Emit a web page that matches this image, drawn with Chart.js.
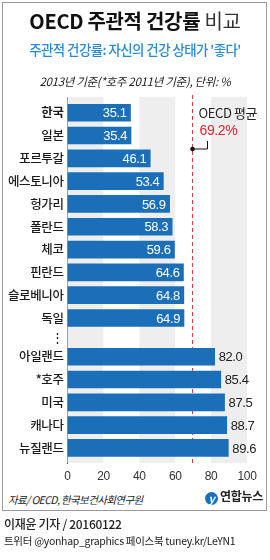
<!DOCTYPE html>
<html>
<head>
<meta charset="utf-8">
<script src="https://cdn.jsdelivr.net/npm/chart.js@4/dist/chart.umd.min.js"></script>
<style>
  html, body { margin:0; padding:0; background:#fff; }
  body { width:270px; height:560px; position:relative; overflow:hidden; font-family:"Noto Sans CJK KR","Noto Sans",sans-serif; }
  .abs { position:absolute; white-space:nowrap; }
  #box { position:absolute; left:2px; top:2px; width:263px; height:507px; border:1px solid #9a9a9a; }
  #chartWrap { position:absolute; left:0; top:0; width:270px; height:490px; }
  #title { left:0; width:270px; top:8px; text-align:center; font-size:20px; line-height:26px; font-weight:700; color:#111; letter-spacing:-0.3px; }
  #title span { font-weight:400; color:#333; }
  #subtitle { left:0; width:270px; top:40px; text-align:center; font-size:13.5px; line-height:18px; font-weight:500; color:#2a8ad4; letter-spacing:-0.6px; }
  #note { left:0; width:270px; top:74px; text-align:center; font-size:11.5px; line-height:15px; color:#222; font-style:italic; letter-spacing:-0.3px; }
  #source { left:8px; top:493px; font-size:10.5px; line-height:14px; color:#222; font-style:italic; letter-spacing:-0.6px; }
  #logo { left:205px; top:488px; font-size:12px; line-height:16px; font-weight:700; color:#222; letter-spacing:-0.3px; }
  #logo i { display:inline-block; width:13px; height:13px; border-radius:50%; background:#1b6fb8; color:#fff; font-size:11px; line-height:13px; text-align:center; vertical-align:-2px; margin-right:2px; font-weight:700; }
  #byline { left:4px; top:515px; font-size:12px; line-height:17px; color:#222; font-weight:500; letter-spacing:-0.3px; }
  #sns { left:4px; top:533px; font-size:10.5px; line-height:15px; color:#222; letter-spacing:-0.3px; }
</style>
</head>
<body>
<div id="box"></div>
<div id="chartWrap"><canvas id="c" width="270" height="490"></canvas></div>
<div class="abs" id="title">OECD 주관적 건강률 <span>비교</span></div>
<div class="abs" id="subtitle">주관적 건강률: 자신의 건강 상태가 '좋다'</div>
<div class="abs" id="note">2013년 기준(*호주 2011년 기준), 단위: %</div>
<div class="abs" id="source">자료/ OECD, 한국보건사회연구원</div>
<div class="abs" id="logo"><i>y</i>연합뉴스</div>
<div class="abs" id="byline">이재윤 기자 / 20160122</div>
<div class="abs" id="sns">트위터 @yonhap_graphics 페이스북 tuney.kr/LeYN1</div>
<script>
// ---- data ----
const categories = ['한국','일본','포르투갈','에스토니아','헝가리','폴란드','체코','핀란드','슬로베니아','독일','⋮','아일랜드','*호주','미국','캐나다','뉴질랜드'];
const values = [35.1,35.4,46.1,53.4,56.9,58.3,59.6,64.6,64.8,64.9,null,82.0,85.4,87.5,88.7,89.6];
const xTicks = [0,20,40,60,80,100];
const oecdAverage = 69.2;
const oecdLabel = 'OECD 평균';

// ---- category scale with a compressed "⋮" row ----
const gapIndex = categories.indexOf('⋮');
const gapShrink = 0.3;
function warp(v) {
  if (v <= gapIndex - 1) return v;
  if (v <= gapIndex + 1) return (gapIndex - 1) + (v - (gapIndex - 1)) * (1 - gapShrink / 2);
  return v - gapShrink;
}
class GapCategoryScale extends Chart.CategoryScale {
  getPixelForValue(value) {
    if (typeof value !== 'number') value = this.parse(value);
    if (value === null || value === undefined) return NaN;
    const lo = -0.69, hi = warp(categories.length - 1) + 0.66;
    return this.getPixelForDecimal((warp(value) - lo) / (hi - lo));
  }
}
GapCategoryScale.id = 'gapcat';
GapCategoryScale.defaults = Chart.CategoryScale.defaults;
Chart.register(GapCategoryScale);

const bandsPlugin = {
  id: 'bands',
  beforeDraw(chart) { chart.ctx.letterSpacing = '-0.4px'; },
  beforeDatasetsDraw(chart) {
    const {ctx, chartArea, scales:{x}} = chart;
    ctx.save();
    ctx.fillStyle = '#eeeeee';
    for (let i = 0; i + 1 < xTicks.length; i += 2) {
      const a = x.getPixelForValue(xTicks[i]), b = x.getPixelForValue(xTicks[i+1]);
      ctx.fillRect(a, chartArea.top, b - a, chartArea.bottom - chartArea.top);
    }
    const ax = Math.round(x.getPixelForValue(oecdAverage)) + 0.5;
    ctx.strokeStyle = '#e03a3a';
    ctx.lineWidth = 1;
    ctx.setLineDash([4, 3]);
    ctx.beginPath();
    ctx.moveTo(ax, chartArea.top - 2);
    ctx.lineTo(ax, chartArea.bottom);
    ctx.stroke();
    ctx.restore();
  },
  afterDatasetsDraw(chart) {
    const {ctx, chartArea, scales:{x}} = chart;
    const meta = chart.getDatasetMeta(0);
    ctx.save();
    ctx.font = '13px "Liberation Sans", Arial, sans-serif';
    ctx.textBaseline = 'middle';
    meta.data.forEach((bar, i) => {
      const v = values[i];
      if (v === null) return;
      const txt = v.toFixed(1);
      if (v < oecdAverage) {
        ctx.fillStyle = '#ffffff';
        ctx.textAlign = 'right';
        ctx.fillText(txt, bar.x - 4, bar.y + 1);
      } else {
        ctx.fillStyle = '#222222';
        ctx.textAlign = 'left';
        ctx.fillText(txt, bar.x + 4, bar.y + 1);
      }
    });
    const ax = Math.round(x.getPixelForValue(oecdAverage)) + 0.5;
    const dotY = chartArea.top + 52;
    ctx.fillStyle = '#111';
    ctx.beginPath();
    ctx.arc(ax, dotY, 2.3, 0, Math.PI * 2);
    ctx.fill();
    ctx.strokeStyle = '#111';
    ctx.lineWidth = 1;
    ctx.beginPath();
    ctx.moveTo(ax, dotY);
    ctx.lineTo(ax + 15, dotY);
    ctx.lineTo(ax + 15, dotY - 8);
    ctx.stroke();
    ctx.textAlign = 'left';
    ctx.font = '13px "Noto Sans CJK KR", sans-serif';
    ctx.fillStyle = '#222';
    ctx.fillText(oecdLabel, ax + 6, chartArea.top + 16);
    ctx.font = '14px "Liberation Sans", Arial, sans-serif';
    ctx.fillStyle = '#e8202a';
    ctx.fillText(oecdAverage.toFixed(1) + '%', ax + 7, chartArea.top + 34);
    ctx.restore();
  }
};

new Chart(document.getElementById('c'), {
  type: 'bar',
  data: {
    labels: categories,
    datasets: [{
      data: values,
      backgroundColor: '#1b6fb8',
      barThickness: 17,
      borderWidth: 0
    }]
  },
  options: {
    indexAxis: 'y',
    responsive: false,
    animation: false,
    events: [],
    layout: { padding: { top: 97, right: 23, bottom: 0, left: 0 } },
    plugins: { legend: { display: false }, tooltip: { enabled: false } },
    scales: {
      x: {
        type: 'linear',
        min: 0, max: 100,
        afterBuildTicks(scale) { scale.ticks = xTicks.map(v => ({value: v})); },
        afterFit(scale) { scale.height = 27; },
        grid: { display: false, drawTicks: false },
        border: { display: false },
        ticks: { padding: 6, color: '#333', font: { family: '"Liberation Sans", Arial, sans-serif', size: 12 }, maxRotation: 0 }
      },
      y: {
        type: 'gapcat',
        afterFit(scale) { scale.width = 67.5; },
        grid: { display: false, drawTicks: false },
        border: { display: true, color: '#555', width: 1 },
        ticks: {
          padding: 4,
          color: '#1a1a1a',
          autoSkip: false,
          font: (c) => ({ family: '"Noto Sans CJK KR", sans-serif', size: 12.5, weight: c.index === 0 ? 'bold' : '500' })
        }
      }
    }
  },
  plugins: [bandsPlugin]
});
</script>
</body>
</html>
